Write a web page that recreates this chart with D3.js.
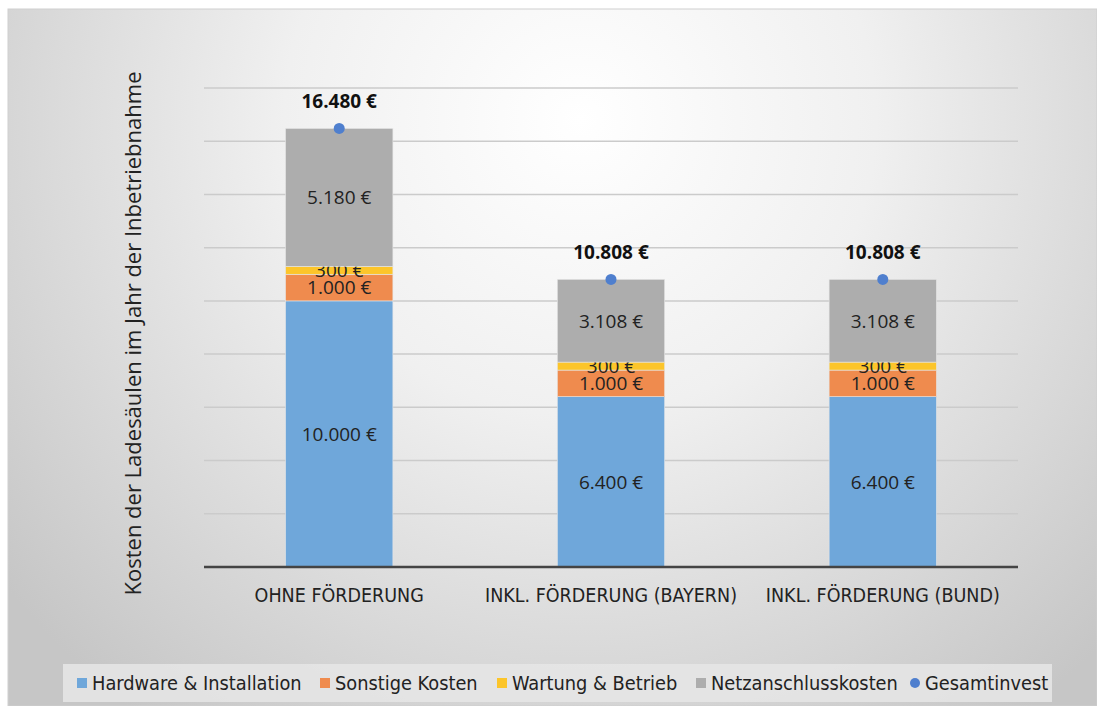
<!DOCTYPE html>
<html>
<head>
<meta charset="utf-8">
<script src="https://cdn.jsdelivr.net/npm/d3@7"></script>
<style>
  body { margin: 0; background: #fff; }
  svg { display: block; }
</style>
</head>
<body>
<div id="chart"></div>
<script>
// Kosten je Szenario (Euro)
var categories = ["OHNE FÖRDERUNG", "INKL. FÖRDERUNG (BAYERN)", "INKL. FÖRDERUNG (BUND)"];
var seriesNames = ["Hardware & Installation", "Sonstige Kosten", "Wartung & Betrieb", "Netzanschlusskosten"];
var hardware = [10000, 6400, 6400];
var sonstige = [1000, 1000, 1000];
var wartung = [300, 300, 300];
var netz = [5180, 3108, 3108];
var gesamt = [16480, 10808, 10808];
var yTicks = [0, 2000, 4000, 6000, 8000, 10000, 12000, 14000, 16000, 18000];

var colors = ["#6fa7da", "#ef8b4e", "#fcc52a", "#adadad"];
var dotColor = "#4f7fce";

var W = 1097, H = 706;
var margin = {left: 204, right: 79, top: 88, bottom: 139};

var de = d3.formatLocale({decimal: ",", thousands: ".", grouping: [3], currency: ["", "\u00a0€"]});
var fmt = de.format("$,.0f");

var svg = d3.select("#chart").append("svg")
  .attr("width", W)
  .attr("height", H);

// background gradient
var defs = svg.append("defs");
var grad = defs.append("radialGradient")
  .attr("id", "bg")
  .attr("gradientUnits", "userSpaceOnUse")
  .attr("cx", 580).attr("cy", 120).attr("r", 740);
grad.append("stop").attr("offset", "0%").attr("stop-color", "#ffffff");
grad.append("stop").attr("offset", "40%").attr("stop-color", "#f0f0f0");
grad.append("stop").attr("offset", "100%").attr("stop-color", "#c6c6c6");

svg.append("rect")
  .attr("x", 8).attr("y", 9)
  .attr("width", W - 8).attr("height", H - 9)
  .attr("fill", "url(#bg)")
  .attr("stroke", "#cfcfcf");

var x = d3.scaleBand()
  .domain(categories)
  .range([margin.left, W - margin.right])
  .paddingInner(0.605)
  .paddingOuter(0.3);

var y = d3.scaleLinear()
  .domain([0, 18000])
  .range([H - margin.bottom, margin.top]);

// gridlines
svg.append("g")
  .selectAll("line")
  .data(yTicks.slice(1))
  .enter().append("line")
    .attr("x1", margin.left)
    .attr("x2", W - margin.right)
    .attr("y1", function(d) { return y(d); })
    .attr("y2", function(d) { return y(d); })
    .attr("stroke", "#cbcbcb")
    .attr("stroke-width", 1.5);

// stacked bars
var table = categories.map(function(c, i) {
  return {cat: c, hw: hardware[i], so: sonstige[i], wa: wartung[i], ne: netz[i]};
});
var stack = d3.stack().keys(["hw", "so", "wa", "ne"]);
var layers = stack(table);

var layer = svg.append("g")
  .selectAll("g")
  .data(layers)
  .enter().append("g")
    .attr("fill", function(d, i) { return colors[i]; });

layer.selectAll("rect")
  .data(function(d) { return d; })
  .enter().append("rect")
    .attr("x", function(d) { return x(d.data.cat); })
    .attr("width", x.bandwidth())
    .attr("y", function(d) { return y(d[1]); })
    .attr("height", function(d) { return y(d[0]) - y(d[1]); })
    .attr("stroke", "#e6e6e6")
    .attr("stroke-width", 0.6);

// segment labels (300 € sits on top of 1.000 €, as in the original)
layer.selectAll("text")
  .data(function(d) { return d; })
  .enter().append("text")
    .attr("x", function(d) { return x(d.data.cat) + x.bandwidth() / 2; })
    .attr("y", function(d) { return (y(d[0]) + y(d[1])) / 2; })
    .attr("dy", "0.36em")
    .attr("text-anchor", "middle")
    .attr("fill", "#222")
    .style("font-family", "'Open Sans', sans-serif")
    .style("font-size", "19px")
    .text(function(d) { return fmt(d[1] - d[0]); });

// baseline
svg.append("line")
  .attr("x1", margin.left)
  .attr("x2", W - margin.right)
  .attr("y1", y(0))
  .attr("y2", y(0))
  .attr("stroke", "#444")
  .attr("stroke-width", 2.5);

// Gesamtinvest dots + labels
svg.append("g")
  .selectAll("circle")
  .data(gesamt)
  .enter().append("circle")
    .attr("cx", function(d, i) { return x(categories[i]) + x.bandwidth() / 2; })
    .attr("cy", function(d) { return y(d); })
    .attr("r", 5.5)
    .attr("fill", dotColor);

svg.append("g")
  .selectAll("text")
  .data(gesamt)
  .enter().append("text")
    .attr("x", function(d, i) { return x(categories[i]) + x.bandwidth() / 2; })
    .attr("y", function(d) { return y(d) - 27; })
    .attr("dy", "0.36em")
    .attr("text-anchor", "middle")
    .attr("fill", "#111")
    .style("font-family", "'Open Sans', sans-serif")
    .style("font-size", "19px")
    .style("font-weight", "bold")
    .text(function(d) { return fmt(d); });

// category axis
var xAxis = svg.append("g")
  .attr("transform", "translate(0," + y(0) + ")")
  .call(d3.axisBottom(x).tickSize(0).tickPadding(21));
xAxis.select(".domain").remove();
xAxis.selectAll("text")
  .attr("fill", "#222")
  .style("font-family", "'DejaVu Sans Condensed', sans-serif")
  .style("font-size", "19.5px")
  .style("font-stretch", "condensed");

// y axis title
svg.append("text")
  .attr("transform", "translate(133," + ((y(0) + y(18000)) / 2 + 6) + ") rotate(-90)")
  .attr("dy", "0.36em")
  .attr("text-anchor", "middle")
  .attr("fill", "#222")
  .style("font-family", "'Open Sans', sans-serif")
  .style("font-size", "22px")
  .text("Kosten der Ladesäulen im Jahr der Inbetriebnahme");

// legend
svg.append("rect")
  .attr("x", 63).attr("y", 664)
  .attr("width", 989).attr("height", 38)
  .attr("fill", "#e6e6e6")
  .attr("opacity", 0.85);

var legendItems = seriesNames.concat(["Gesamtinvest"]);
var legendColors = colors.concat([dotColor]);
var legendX = [77, 320, 497, 696, 910];

var lg = svg.append("g")
  .selectAll("g")
  .data(legendItems)
  .enter().append("g")
    .attr("transform", function(d, i) { return "translate(" + legendX[i] + ",683)"; });

lg.each(function(d, i) {
  var g = d3.select(this);
  if (i < 4) {
    g.append("rect").attr("x", 0).attr("y", -5).attr("width", 10).attr("height", 10)
      .attr("fill", legendColors[i]);
  } else {
    g.append("circle").attr("cx", 5).attr("cy", 0).attr("r", 5).attr("fill", legendColors[i]);
  }
  g.append("text")
    .attr("x", 15)
    .attr("dy", "0.36em")
    .attr("fill", "#222")
    .style("font-family", "'DejaVu Sans Condensed', sans-serif")
    .style("font-size", "19.8px")
    .style("font-stretch", "condensed")
    .text(d);
});
</script>
</body>
</html>
